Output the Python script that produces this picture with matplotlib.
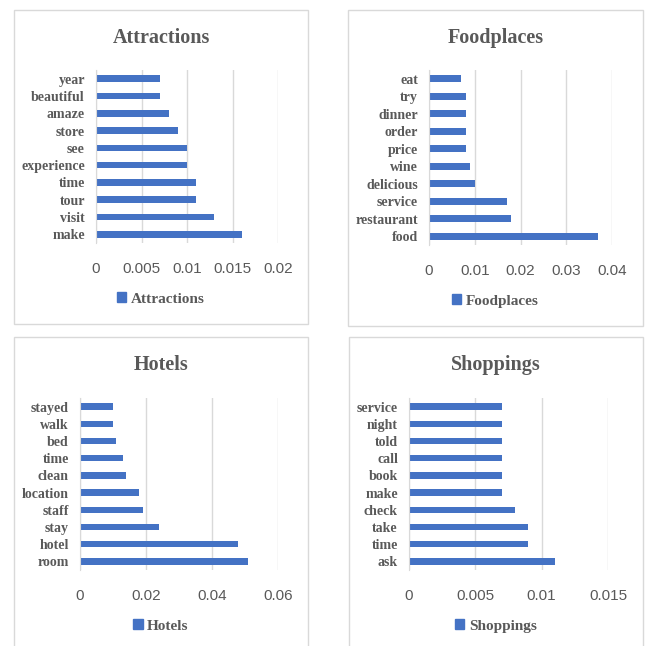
import matplotlib
matplotlib.use('Agg')
from matplotlib import pyplot as plt
from matplotlib.patches import Rectangle, Patch

plt.rcParams['font.family'] = ['Liberation Serif', 'DejaVu Serif']
plt.rcParams['font.weight'] = 'bold'

# word frequencies per category (bottom bar first)
attr_words = ['make', 'visit', 'tour', 'time', 'experience', 'see', 'store', 'amaze', 'beautiful', 'year']
attr_vals = [0.016, 0.013, 0.011, 0.011, 0.010, 0.010, 0.009, 0.008, 0.007, 0.007]
attr_ticks = [0, 0.005, 0.01, 0.015, 0.02]

food_words = ['food', 'restaurant', 'service', 'delicious', 'wine', 'price', 'order', 'dinner', 'try', 'eat']
food_vals = [0.037, 0.018, 0.017, 0.010, 0.009, 0.008, 0.008, 0.008, 0.008, 0.007]
food_ticks = [0, 0.01, 0.02, 0.03, 0.04]

hotel_words = ['room', 'hotel', 'stay', 'staff', 'location', 'clean', 'time', 'bed', 'walk', 'stayed']
hotel_vals = [0.051, 0.048, 0.024, 0.019, 0.018, 0.014, 0.013, 0.011, 0.010, 0.010]
hotel_ticks = [0, 0.02, 0.04, 0.06]

shop_words = ['ask', 'time', 'take', 'check', 'make', 'book', 'call', 'told', 'night', 'service']
shop_vals = [0.011, 0.009, 0.009, 0.008, 0.007, 0.007, 0.007, 0.007, 0.007, 0.007]
shop_ticks = [0, 0.005, 0.01, 0.015]

W, H = 648, 646
BLUE = '#4472C4'
GRAY = '#595959'

fig = plt.figure(figsize=(W / 100, H / 100), dpi=100)

# (title, words, values, ticks, axes px box [x0, x1, ytop, ybot], chart px box [x0, x1, ytop, ybot])
panels = [
    ('Attractions', attr_words, attr_vals, attr_ticks, [96, 278, 70, 243], [14, 308, 10, 324]),
    ('Foodplaces', food_words, food_vals, food_ticks, [429, 612, 70, 245], [348, 643, 10, 326]),
    ('Hotels', hotel_words, hotel_vals, hotel_ticks, [80, 278, 398, 570], [14, 308, 337, 660]),
    ('Shoppings', shop_words, shop_vals, shop_ticks, [409, 608, 398, 570], [349, 643, 337, 660]),
]

for title, words, vals, ticks, abox, cbox in panels:
    # chart area border
    fig.patches.append(Rectangle((cbox[0] / W, 1 - cbox[3] / H), (cbox[1] - cbox[0]) / W,
                                 (cbox[3] - cbox[2]) / H, transform=fig.transFigure,
                                 fill=False, edgecolor='#D9D9D9', lw=1.0))
    ax = fig.add_axes([abox[0] / W, 1 - abox[3] / H, (abox[1] - abox[0]) / W, (abox[3] - abox[2]) / H])
    ax.barh(range(len(words)), vals, height=0.38, color=BLUE)
    ax.set_ylim(-0.5, len(words) - 0.5)
    ax.set_xlim(ticks[0], ticks[-1])
    ax.set_xticks(ticks)
    ax.set_xticklabels([f'{t:g}' for t in ticks], fontsize=11, color=GRAY, fontweight='normal',
                       family=['Liberation Sans'])
    ax.set_yticks(range(len(words)))
    ax.set_yticklabels(words, fontsize=10, color=GRAY, fontweight='bold')
    ax.tick_params(axis='y', length=0, pad=8)
    ax.tick_params(axis='x', length=0, pad=14)
    ax.grid(axis='x', color='#D9D9D9', lw=1)
    ax.set_axisbelow(True)
    for s in ['top', 'right', 'bottom']:
        ax.spines[s].set_visible(False)
    ax.spines['left'].set_color('#D9D9D9')

    cx = (cbox[0] + cbox[1]) / 2 / W
    fig.text(cx, 1 - (cbox[2] + 28) / H, title, ha='center', va='center',
             fontsize=14.5, fontweight='bold', color=GRAY)
    fig.legend(handles=[Patch(color=BLUE, label=title)], loc='center',
               bbox_to_anchor=(cx, 1 - (abox[3] + 56) / H), frameon=False,
               handlelength=0.6, handleheight=0.6, handletextpad=0.3,
               prop={'size': 11, 'weight': 'bold'}, labelcolor=GRAY)

fig.savefig('out.png', dpi=100, facecolor='white')
